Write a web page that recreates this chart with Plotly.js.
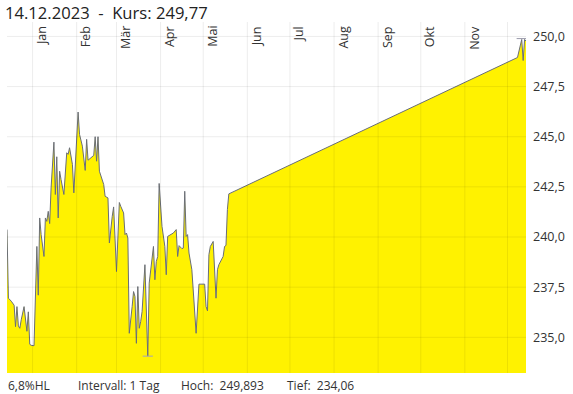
<!DOCTYPE html>
<html>
<head>
<meta charset="utf-8">
<script src="https://cdn.plot.ly/plotly-3.0.1.min.js"></script>
<style>html,body{margin:0;padding:0;background:#fff;}#chart{width:573px;height:394px;}</style>
</head>
<body>
<div id="chart"></div>
<script>
// ---- data ----
const dates = [
'2022-12-14','2022-12-15','2022-12-17','2022-12-19','2022-12-20','2022-12-21','2022-12-22','2022-12-23','2022-12-24','2022-12-26','2022-12-28','2022-12-29','2022-12-30','2022-12-31',
'2023-01-02','2023-01-04','2023-01-05','2023-01-06','2023-01-07','2023-01-09','2023-01-10','2023-01-11','2023-01-12','2023-01-13','2023-01-14','2023-01-16','2023-01-17','2023-01-18','2023-01-19','2023-01-20','2023-01-21','2023-01-23','2023-01-25','2023-01-26','2023-01-27','2023-01-29','2023-01-30',
'2023-02-02','2023-02-03','2023-02-05','2023-02-07','2023-02-08','2023-02-09','2023-02-13','2023-02-14','2023-02-15','2023-02-16','2023-02-17','2023-02-20','2023-02-21','2023-02-23','2023-02-24','2023-02-26','2023-02-27',
'2023-03-01','2023-03-03','2023-03-04','2023-03-06','2023-03-07','2023-03-08','2023-03-09','2023-03-10','2023-03-12','2023-03-13','2023-03-14','2023-03-15','2023-03-16','2023-03-17','2023-03-18','2023-03-19','2023-03-21','2023-03-23','2023-03-24','2023-03-27','2023-03-28','2023-03-29','2023-03-30','2023-03-31',
'2023-04-02','2023-04-04','2023-04-05','2023-04-06','2023-04-10','2023-04-12','2023-04-13','2023-04-14','2023-04-16','2023-04-17','2023-04-18','2023-04-19','2023-04-20','2023-04-21','2023-04-23','2023-04-24','2023-04-26','2023-04-28',
'2023-05-02','2023-05-03','2023-05-04','2023-05-05','2023-05-06','2023-05-08','2023-05-10','2023-05-11','2023-05-12','2023-05-15','2023-05-16','2023-05-17','2023-05-18','2023-05-19',
'2023-12-08','2023-12-11','2023-12-12','2023-12-13','2023-12-14'
];
const prices = [
240.37,236.95,236.80,236.60,235.53,236.53,235.57,235.45,235.87,236.53,235.30,236.27,234.65,234.60,
234.58,239.53,237.10,240.95,240.12,239.03,240.95,240.78,241.28,240.67,242.45,244.73,242.12,244.00,240.95,243.28,242.87,242.12,244.20,244.12,244.45,243.62,242.20,
246.23,245.12,244.53,243.32,244.87,243.83,244.07,245.00,243.78,245.00,243.28,242.62,242.03,241.95,239.70,241.03,241.50,
238.28,241.72,241.53,241.20,240.12,240.20,239.95,235.20,236.53,237.28,237.03,234.70,237.53,235.45,235.78,236.28,238.62,234.06,237.70,239.53,237.87,238.78,239.03,242.67,
240.53,239.53,238.12,240.03,240.20,240.37,239.03,239.57,239.42,239.45,242.28,240.03,240.12,239.20,238.37,237.37,235.20,237.65,
237.65,236.53,236.32,239.12,239.53,239.78,236.95,238.37,238.62,239.03,239.53,239.58,241.37,242.15,
248.95,249.85,248.80,249.85,249.77
];
const monthStarts = ['2023-01-01','2023-02-01','2023-03-01','2023-04-01','2023-05-01','2023-06-01','2023-07-01','2023-08-01','2023-09-01','2023-10-01','2023-11-01','2023-12-01'];
const monthLabels = ['Jan','Feb','Mär','Apr','Mai','Jun','Jul','Aug','Sep','Okt','Nov',''];
const yTicks = [235, 237.5, 240, 242.5, 245, 247.5, 250];
const hiDate = '2023-12-11', hiValue = 249.893;
const loDate = '2023-03-23', loValue = 234.06;
const titleText = '14.12.2023\u00a0\u00a0-\u00a0\u00a0Kurs: 249,77';
const footerTexts = ['6,8%HL', 'Intervall: 1 Tag', 'Hoch:\u00a0\u00a0249,893', 'Tief:\u00a0\u00a0234,06'];

// ---- helpers ----
function shiftDate(d, days){
  const t = new Date(d + 'T00:00:00Z').getTime() + days*86400000;
  return new Date(t).toISOString().slice(0,19).replace('T',' ');
}

const W = 573, H = 394;
const M = {l:7, r:47, t:22, b:21};
const PW = W - M.l - M.r, PH = H - M.t - M.b;
const px2paperX = px => (px - M.l)/PW;
const px2paperY = py => (H - M.b - py)/PH;

const FONT = '"Open Sans", "Noto Sans", sans-serif';

const traces = [
  {
    x: dates, y: prices, type: 'scatter', mode: 'lines',
    line: {color: '#6a6e76', width: 1},
    fill: 'tozeroy', fillcolor: '#FFF200',
    hoverinfo: 'skip'
  },
  {
    x: [shiftDate(hiDate,-3.6), shiftDate(hiDate,3.6)], y: [hiValue, hiValue],
    type: 'scatter', mode: 'lines', line: {color: '#9b9bab', width: 1}, hoverinfo: 'skip'
  },
  {
    x: [shiftDate(loDate,-3.6), shiftDate(loDate,3.6)], y: [loValue, loValue],
    type: 'scatter', mode: 'lines', line: {color: '#a3a3bb', width: 1}, hoverinfo: 'skip'
  }
];

const gridColor = 'rgba(0,0,0,0.075)';
const shapes = [];
monthStarts.forEach(d => shapes.push({type:'line', xref:'x', yref:'paper', x0:d, x1:d, y0:0, y1:1, line:{color:gridColor, width:1}, layer:'above'}));
yTicks.forEach(v => shapes.push({type:'line', xref:'paper', yref:'y', x0:0, x1:1, y0:v, y1:v, line:{color:gridColor, width:1}, layer:'above'}));

const footerX = [5.5, 75.5, 179, 285];
const annotations = footerTexts.map((t,i) => ({
  text: t, xref:'paper', yref:'paper', x: px2paperX(footerX[i]), y: px2paperY(385.5),
  xanchor:'left', yanchor:'middle', showarrow:false,
  font:{family:FONT, size:12, color:'#333'}
}));
// month labels, rotated, inside the top of the plot
monthStarts.forEach((d,i) => {
  if (!monthLabels[i]) return;
  annotations.push({
    text: monthLabels[i], xref:'x', yref:'paper', x: d, y: 1,
    xanchor:'center', yanchor:'top', xshift: 9, yshift: -2,
    textangle: -90, showarrow:false,
    font:{family:FONT, size:12.5, color:'#333'}
  });
});

const layout = {
  width: W, height: H,
  margin: M,
  paper_bgcolor: '#fff', plot_bgcolor: '#fff',
  showlegend: false,
  separators: ',.',
  title: {
    text: titleText, xref:'container', yref:'container',
    x: 5/W, xanchor:'left', y: 1 - 13/H, yanchor:'middle',
    font: {family: FONT, size: 16.6, color: '#222'}
  },
  xaxis: {
    type: 'date', range: ['2022-12-14', '2023-12-14'],
    side: 'top', tickvals: monthStarts, showticklabels: false,
    ticks: '', showgrid: false, zeroline: false, showline: false
  },
  yaxis: {
    side: 'right', range: [233.22, 250.72],
    tickvals: yTicks, tickformat: '.1f',
    ticks: '', ticklabelstandoff: 6, showgrid: false, zeroline: false, showline: false,
    tickfont: {family: FONT, size: 12.5, color: '#333'}
  },
  shapes: shapes,
  annotations: annotations
};

Plotly.newPlot('chart', traces, layout, {displayModeBar: false, staticPlot: true});
</script>
</body>
</html>
